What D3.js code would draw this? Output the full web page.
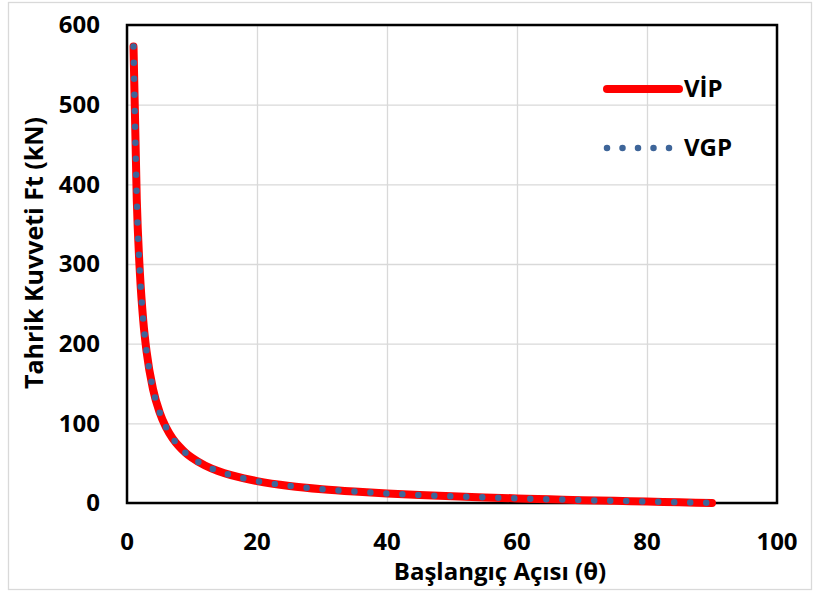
<!DOCTYPE html>
<html>
<head>
<meta charset="utf-8">
<script src="https://cdn.jsdelivr.net/npm/d3@7"></script>
<style>
  body { margin: 0; background: #fff; }
  svg text { font-family: "Open Sans", "Liberation Sans", sans-serif; font-weight: bold; fill: #000; }
  .grid line { stroke: #d9d9d9; stroke-width: 1.3; }
  .grid path { stroke: none; }
</style>
</head>
<body>
<svg id="chart" width="815" height="594"></svg>
<script>
// angle (deg) and traction force (kN)
const angles = [1, 1.5, 2, 2.5, 3, 4, 5, 6, 7, 8, 9, 10, 12, 14, 16, 18, 20, 25, 30, 35, 40, 45, 50, 55, 60, 65, 70, 75, 80, 85, 90];
const vipForce = [572.9, 381.8, 286.4, 229.0, 190.8, 143.0, 114.3, 95.1, 81.4, 71.2, 63.1, 56.7, 47.0, 40.1, 34.9, 30.8, 27.5, 21.4, 17.3, 14.3, 11.9, 10.0, 8.4, 7.0, 5.8, 4.7, 3.6, 2.7, 1.8, 0.9, 0];
const vgpForce = [572.9, 381.8, 286.4, 229.0, 190.8, 143.0, 114.3, 95.1, 81.4, 71.2, 63.1, 56.7, 47.0, 40.1, 34.9, 30.8, 27.5, 21.4, 17.3, 14.3, 11.9, 10.0, 8.4, 7.0, 5.8, 4.7, 3.6, 2.7, 1.8, 0.9, 0];
const xTicks = [0, 20, 40, 60, 80, 100];
const yTicks = [0, 100, 200, 300, 400, 500, 600];

const svg = d3.select("#chart");
const margin = {top: 25, right: 38, bottom: 91, left: 127};
const width = 815 - margin.left - margin.right;
const height = 594 - margin.top - margin.bottom;

// outer chart frame
svg.append("rect")
    .attr("x", 8.5).attr("y", 2.5)
    .attr("width", 803).attr("height", 587)
    .attr("fill", "none").attr("stroke", "#d9d9d9").attr("stroke-width", 1.3);

const g = svg.append("g")
    .attr("transform", "translate(" + margin.left + "," + margin.top + ")");

const xScale = d3.scaleLinear().domain([0, 100]).range([0, width]);
const yScale = d3.scaleLinear().domain([0, 600]).range([height, 0]);

// gridlines
g.append("g").attr("class", "grid")
    .call(d3.axisLeft(yScale).tickValues(yTicks).tickSize(-width).tickFormat(""));
g.append("g").attr("class", "grid")
    .attr("transform", "translate(0," + height + ")")
    .call(d3.axisBottom(xScale).tickValues(xTicks).tickSize(-height).tickFormat(""));

// plot border
g.append("rect")
    .attr("width", width).attr("height", height)
    .attr("fill", "none").attr("stroke", "#000").attr("stroke-width", 2.5);

// tick labels
g.selectAll(".ylab").data(yTicks).enter().append("text")
    .attr("x", -27).attr("y", d => yScale(d))
    .attr("dy", "0.35em").attr("text-anchor", "end")
    .style("font-size", "24px").text(d => d);
g.selectAll(".xlab").data(xTicks).enter().append("text")
    .attr("x", d => xScale(d)).attr("y", height + 39)
    .attr("dy", "0.35em").attr("text-anchor", "middle")
    .style("font-size", "24px").text(d => d);

// axis titles
g.append("text")
    .attr("x", 373).attr("y", height + 69)
    .attr("dy", "0.35em").attr("text-anchor", "middle")
    .style("font-size", "24px").text("Başlangıç Açısı (θ)");
g.append("text")
    .attr("transform", "translate(-93,228) rotate(-90)")
    .attr("dy", "0.35em").attr("text-anchor", "middle")
    .style("font-size", "25px").text("Tahrik Kuvveti Ft (kN)");

const line = (vals) => d3.line()
    .x((d, i) => xScale(angles[i]))
    .y(d => yScale(d))
    .curve(d3.curveMonotoneX)(vals);

// VİP solid red
g.append("path")
    .attr("d", line(vipForce))
    .attr("fill", "none").attr("stroke", "#ff0000")
    .attr("stroke-width", 8).attr("stroke-linecap", "round");

// VGP round dots
g.append("path")
    .attr("d", line(vgpForce))
    .attr("fill", "none").attr("stroke", "#3e6599")
    .attr("stroke-width", 6.5).attr("stroke-linecap", "round")
    .attr("stroke-dasharray", "0 16");

// legend
const leg = g.append("g");
leg.append("line")
    .attr("x1", 480).attr("x2", 552).attr("y1", 64).attr("y2", 64)
    .attr("stroke", "#ff0000").attr("stroke-width", 8).attr("stroke-linecap", "round");
leg.append("text").attr("x", 557).attr("y", 64).attr("dy", "0.35em")
    .style("font-size", "24px").text("VİP");
leg.append("line")
    .attr("x1", 480).attr("x2", 552).attr("y1", 123).attr("y2", 123)
    .attr("stroke", "#3e6599").attr("stroke-width", 6.5).attr("stroke-linecap", "round")
    .attr("stroke-dasharray", "0 15.5");
leg.append("text").attr("x", 557).attr("y", 123).attr("dy", "0.35em")
    .style("font-size", "24px").text("VGP");
</script>
</body>
</html>
